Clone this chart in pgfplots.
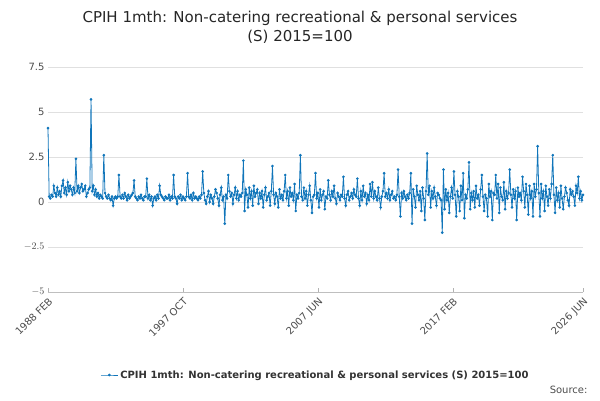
\documentclass[border=0pt]{standalone}
\usepackage{pgfplots}
\pgfplotsset{compat=1.18}
\usepackage{fontspec}
\setmainfont{DejaVu Sans}
\definecolor{ons}{RGB}{16,117,186}
\begin{document}
\begin{tikzpicture}
\useasboundingbox (-48pt,-108pt) rectangle (552pt,292pt);
\begin{axis}[scale only axis, width=535pt, height=225pt,
 xmin=0, xmax=460, ymin=-5, ymax=7.5,
 ytick={-5,-2.5,0,2.5,5,7.5},
 yticklabels={$-5$,$-2.5$,0,2.5,5,7.5},
 /pgf/number format/assume math mode=true,
 xtick={0,116,232,348,460},
 xticklabels={1988 FEB,1997 OCT,2007 JUN,2017 FEB,2026 JUN},
 xticklabel style={rotate=45,anchor=north east,font=\fontsize{10}{11}\selectfont,text=black!70},
 yticklabel style={font=\fontsize{10}{11}\selectfont,text=black!70},
 axis y line*=left, axis x line*=bottom,
 y axis line style={draw=none},
 x axis line style={black!25,-},
 ymajorgrids, grid style={black!12},
 major tick length=4pt, tick style={black!30},
 ytick style={draw=none},
 legend style={at={(0.5,-0.33)},anchor=north,draw=none,font=\fontsize{10}{12}\selectfont\bfseries,text=black!80},
 clip=false]
\addplot[ons, thick, mark=*, mark size=0.9pt] table[header=false, x expr=\coordindex, y index=0, row sep=\\] {
4.1\\0.3\\0.2\\0.4\\0.3\\0.9\\0.5\\0.3\\0.8\\0.4\\0.6\\0.3\\
0.9\\1.2\\0.5\\0.8\\0.4\\1.1\\0.6\\0.9\\0.7\\0.4\\0.8\\0.5\\
2.4\\0.6\\0.9\\0.5\\0.8\\1.0\\0.6\\0.7\\0.9\\0.3\\0.5\\0.7\\
0.8\\5.7\\0.6\\0.9\\0.4\\0.7\\0.3\\0.5\\0.2\\0.4\\0.3\\0.2\\
2.6\\0.5\\0.3\\0.2\\0.4\\0.2\\0.1\\0.3\\-0.2\\0.2\\0.3\\0.2\\
0.3\\1.5\\0.3\\0.2\\0.4\\0.2\\0.5\\0.3\\0.1\\0.4\\0.2\\0.3\\
0.4\\0.5\\1.2\\0.3\\0.2\\0.1\\0.3\\0.2\\0.4\\0.2\\0.1\\0.3\\
0.3\\1.3\\0.2\\0.4\\0.1\\0.3\\-0.2\\0.2\\0.3\\0.1\\0.4\\0.2\\
0.9\\0.4\\0.3\\0.2\\0.1\\0.3\\0.2\\0.2\\0.4\\0.1\\0.3\\0.2\\
1.5\\0.3\\0.2\\-0.1\\0.3\\0.2\\0.4\\0.1\\0.3\\0.2\\0.1\\0.3\\
1.6\\0.3\\0.2\\0.4\\0.1\\0.5\\0.2\\0.3\\0.2\\0.1\\0.3\\0.2\\
0.4\\1.7\\0.5\\0.1\\-0.1\\0.3\\0.6\\0.0\\0.4\\0.2\\-0.1\\0.3\\
0.7\\0.5\\0.2\\-0.2\\0.4\\0.8\\0.1\\0.3\\-1.2\\0.4\\0.2\\1.5\\
0.6\\0.3\\0.5\\-0.1\\0.4\\0.8\\0.2\\0.6\\0.1\\0.4\\0.3\\0.5\\
2.3\\-0.5\\0.7\\0.4\\-0.3\\0.8\\0.2\\0.6\\-0.2\\0.9\\0.3\\0.5\\
0.7\\-0.1\\0.5\\0.2\\0.6\\-0.3\\0.4\\0.8\\0.1\\0.3\\0.5\\-0.2\\
0.6\\2.0\\0.4\\-0.1\\0.5\\0.3\\-0.3\\0.7\\0.2\\0.4\\0.1\\0.6\\
1.5\\0.2\\0.6\\-0.2\\0.8\\0.3\\0.5\\0.1\\1.0\\-0.5\\0.4\\0.2\\
0.5\\2.6\\0.3\\0.1\\0.8\\0.2\\0.6\\-0.2\\0.4\\0.9\\0.1\\-0.6\\
0.3\\0.4\\1.6\\0.2\\0.5\\-0.3\\0.7\\0.1\\0.4\\0.6\\-0.4\\0.3\\
0.2\\1.2\\0.4\\0.1\\0.6\\0.3\\0.9\\0.2\\-0.1\\0.5\\0.3\\0.1\\
0.4\\0.3\\1.4\\0.2\\-0.2\\0.4\\0.6\\0.1\\0.3\\0.5\\0.2\\0.7\\
0.4\\0.3\\1.3\\0.2\\-0.2\\0.6\\0.1\\0.9\\0.3\\0.5\\-0.1\\0.4\\
0.1\\1.0\\0.3\\1.1\\0.2\\0.6\\0.3\\0.1\\0.8\\0.2\\-0.3\\0.3\\
0.6\\1.6\\0.3\\0.5\\0.2\\0.7\\0.1\\0.4\\0.6\\0.2\\0.3\\0.1\\
0.4\\1.8\\0.3\\-0.8\\0.5\\0.2\\0.6\\0.3\\0.1\\0.4\\0.2\\0.5\\
1.6\\-1.2\\0.7\\0.3\\-0.3\\0.9\\0.4\\0.1\\0.6\\-0.5\\0.8\\0.2\\
-1.0\\0.6\\2.7\\0.4\\0.9\\-0.3\\0.6\\0.2\\0.8\\0.3\\-0.2\\0.5\\
0.4\\0.2\\0.1\\-1.7\\1.8\\-0.4\\0.7\\0.1\\0.5\\-0.6\\0.3\\0.8\\
0.2\\1.7\\0.4\\-0.8\\0.6\\0.3\\-0.5\\0.9\\0.1\\1.6\\-0.9\\0.4\\
0.2\\0.7\\2.2\\-0.4\\0.5\\0.1\\0.6\\-0.3\\0.9\\0.2\\0.4\\-0.2\\
0.7\\1.5\\0.3\\-0.5\\0.4\\0.2\\-0.8\\1.0\\0.3\\0.6\\-1.0\\0.5\\
0.4\\1.5\\0.2\\1.0\\-0.6\\0.8\\0.3\\0.1\\1.1\\-0.4\\0.6\\0.2\\
0.5\\1.8\\0.4\\-0.3\\0.7\\0.2\\0.6\\-1.0\\0.8\\0.3\\0.5\\0.1\\
1.4\\0.6\\-0.3\\1.0\\0.4\\-0.7\\0.9\\0.2\\0.6\\-0.8\\1.0\\0.3\\
0.7\\3.1\\0.5\\-0.8\\1.0\\0.2\\0.6\\-0.5\\0.9\\0.3\\-0.2\\0.7\\
0.2\\1.0\\2.6\\0.4\\-0.6\\0.8\\0.1\\0.5\\-0.3\\0.9\\0.2\\-0.4\\
0.3\\0.8\\0.5\\0.1\\-0.2\\0.7\\0.4\\0.6\\0.3\\-0.2\\0.9\\0.5\\
1.4\\0.2\\0.6\\0.1\\0.4\\
};
\addlegendentry{CPIH 1mth: Non-catering recreational \& personal services (S) 2015=100}
\end{axis}
\node[align=center, font=\fontsize{15}{19}\selectfont, text=black!85] at (252pt,265pt) {CPIH 1mth: Non-catering recreational \& personal services\\(S) 2015=100};
\node[anchor=east, font=\fontsize{10}{12}\selectfont, text=black!70] at (543pt,-98pt) {Source:};
\end{tikzpicture}
\end{document}
